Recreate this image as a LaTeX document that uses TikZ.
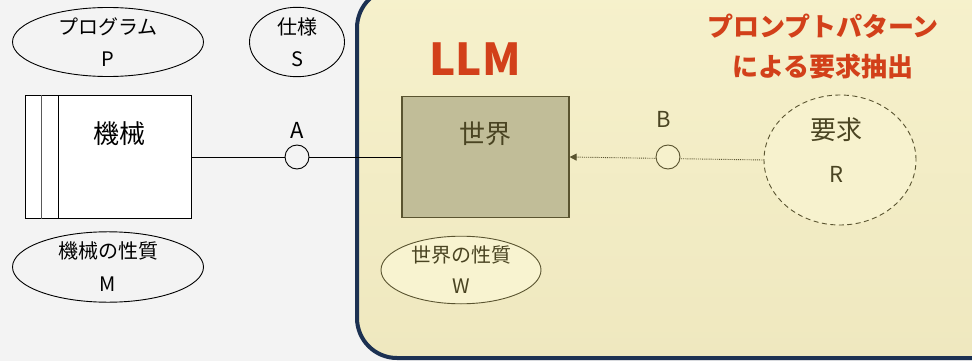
\documentclass[tikz,border=0pt]{standalone}
\usepackage{fontspec}
\setmainfont{Noto Sans CJK JP}
\usetikzlibrary{shapes.geometric,arrows.meta}
\definecolor{bg}{HTML}{F3F3F3}
\definecolor{navy}{HTML}{1C3152}
\definecolor{creamtop}{HTML}{F6F1CC}
\definecolor{creambot}{HTML}{EFE8BF}
\definecolor{olivebox}{HTML}{C1BD98}
\definecolor{olivedark}{HTML}{5A5430}
\definecolor{olivetext}{HTML}{4A4422}
\definecolor{redt}{HTML}{D2401A}
\definecolor{ellfill}{HTML}{F8F3D0}
\newcommand{\fsz}[2]{\fontsize{#1}{#2}\selectfont}
\begin{document}
\begin{tikzpicture}[x=1pt,y=-1pt,
  ell/.style={ellipse, draw, line width=0.9pt, inner sep=0pt, align=center},
  ellw/.style={ell, draw=olivedark, fill=ellfill, text=olivetext},
  iface/.style={circle, draw, line width=0.9pt, minimum size=24pt, inner sep=0pt},
  lbl/.style={inner sep=0pt, font=\fsz{22}{26}},
  big/.style={inner sep=0pt, font=\fsz{26}{30}},
  titlered/.style={text=redt, inner sep=0pt, align=center}]
\useasboundingbox (0,0) rectangle (972,361);
\clip (0,0) rectangle (972,361);
\fill[bg] (0,0) rectangle (972,361);
% LLM region
\draw[line width=4pt, navy, top color=creamtop, bottom color=creambot, rounded corners=40pt]
  (357,-12) rectangle (1030,358);
% left side
\node[ell, font=\fsz{20}{32}, minimum width=191pt, minimum height=63pt] (p) at (108,42) {プログラム\\P};
\node[ell, font=\fsz{20}{32}, minimum width=95pt, minimum height=63pt] (s) at (297,42) {仕様\\S};
\node[draw, line width=0.9pt, fill=white, minimum width=166pt, minimum height=123pt, inner sep=0pt] (m) at (108,157) {};
\draw[gray!70!black, line width=0.8pt] ([xshift=17pt]m.north west) -- ([xshift=17pt]m.south west);
\draw[line width=0.9pt] ([xshift=34pt]m.north west) -- ([xshift=34pt]m.south west);
\node[big] (mt) at (119,134) {機械};
\node[ell, font=\fsz{20}{33}, minimum width=191pt, minimum height=63pt] (mm) at (108,267) {機械の性質\\M};
% world
\node[draw=olivedark, line width=1.2pt, fill=olivebox, minimum width=167pt, minimum height=121pt, inner sep=0pt] (w) at (485.5,157) {};
\node[big, text=olivetext] (wt) at (485,134) {世界};
\node[ellw, font=\fsz{20}{31}, minimum width=160pt, minimum height=60pt] (ww) at (461,270) {世界の性質\\W};
% requirement
\node[ell, dash pattern=on 5pt off 3.5pt, draw=olivedark, fill=ellfill!60!creamtop, minimum width=152pt, minimum height=130pt] (r) at (840,160) {};
\node[big, text=olivetext] (rt) at (836,130) {要求};
\node[lbl, text=olivetext] (rr) at (836,174) {R};
% connectors
\draw[line width=0.9pt] (m.east) -- (w.west);
\node[iface, fill=bg] (ca) at (297,157) {};
\node[lbl] (la) at (297,130) {A};
\draw[densely dotted, olivedark, line width=0.9pt, -{Triangle[length=7pt,width=7pt]}] (r.west) -- (w.east);
\node[iface, draw=olivedark, fill=creamtop] (cb) at (668,157) {};
\node[lbl, text=olivetext] (lb) at (664,119) {B};
% titles
\node[titlered, font=\fsz{44}{44}\bfseries] (llm) at (475,59) {LLM};
\node[titlered, font=\fsz{26}{40}\bfseries] (tt) at (823,47) {プロンプトパターン\\による要求抽出};
\end{tikzpicture}
\end{document}
